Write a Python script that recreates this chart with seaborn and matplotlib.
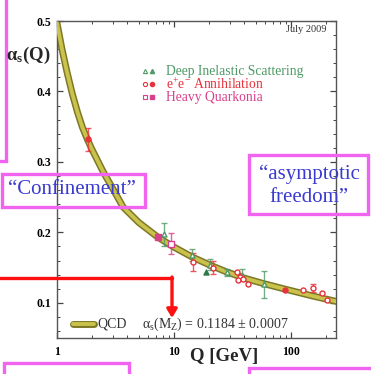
import matplotlib
matplotlib.use("Agg")
import matplotlib.pyplot as plt
from matplotlib.patches import Rectangle, FancyArrowPatch
from matplotlib.lines import Line2D
from matplotlib.ticker import FixedLocator, FixedFormatter, MultipleLocator, NullFormatter
import pandas as pd
import seaborn as sns

# running coupling curve
qcd_q = [1.0, 1.1, 1.22, 1.35, 1.5, 1.65, 1.84, 2.0, 2.5, 3.0, 3.67, 5.0, 7.3, 10, 14.3, 20, 28, 40, 59, 91, 150, 243]
qcd_alpha = [0.497, 0.461, 0.427, 0.397, 0.370, 0.349, 0.330, 0.317, 0.285, 0.262, 0.236, 0.214, 0.193, 0.179,
             0.165, 0.154, 0.144, 0.135, 0.127, 0.119, 0.110, 0.102]

# deep inelastic scattering
dis_open_q = [8.2, 14.3, 20.3, 28.3, 38, 58.8]
dis_open_a = [0.197, 0.168, 0.154, 0.143, 0.140, 0.126]
dis_open_err = [0.016, 0.009, 0.008, 0.005, 0.008, 0.019]
dis_full_q = [18.8]
dis_full_a = [0.144]

# e+e- annihilation
ee_open_q = [14.5, 21.6, 34.5, 36.6, 35.3, 38.9, 42.9, 126, 154, 184, 203]
ee_open_a = [0.158, 0.150, 0.143, 0.137, 0.133, 0.134, 0.127, 0.118, 0.121, 0.114, 0.104]
ee_open_err = [0.013, 0.009, 0, 0, 0, 0, 0, 0, 0.005, 0, 0]
ee_full_q = [1.84, 89]
ee_full_a = [0.332, 0.118]
ee_full_err = [0.016, 0]

# heavy quarkonia
hq_open_q = [9.4]
hq_open_a = [0.184]
hq_open_err = [0.015]
hq_full_q = [7.3]
hq_full_a = [0.193]

x_ticks = [1, 10, 100]
x_tick_labels = ["1", "10", "100"]
y_ticks = [0.1, 0.2, 0.3, 0.4, 0.5]

sns.set_style("ticks")
plt.rcParams["font.family"] = ["Liberation Serif", "DejaVu Serif"]
plt.rcParams["mathtext.fontset"] = "custom"
plt.rcParams["mathtext.rm"] = "Liberation Serif"
plt.rcParams["mathtext.it"] = "Liberation Serif:italic"
plt.rcParams["mathtext.bf"] = "Liberation Serif:bold"

W, H = 371, 374


def px(x, y):
    # pixel position -> figure fraction
    return x / W, 1 - y / H


fig = plt.figure(figsize=(W / 100, H / 100), dpi=100)
fig.patch.set_facecolor("white")
ax = fig.add_axes([57 / W, 1 - 338 / H, (336 - 57) / W, (338 - 21) / H])

band_dark, band_light = "#7d7826", "#c9c24c"
curve = pd.DataFrame({"Q": qcd_q, "alpha": qcd_alpha})
sns.lineplot(data=curve, x="Q", y="alpha", ax=ax, color=band_dark, linewidth=5.0, zorder=2)
sns.lineplot(data=curve, x="Q", y="alpha", ax=ax, color=band_light, linewidth=2.8, zorder=3)

green, red, pink = "#4f9a66", "#e8323c", "#d9408c"


def points(q, a, err, color, marker, filled):
    df = pd.DataFrame({"Q": q, "alpha": a, "err": err})
    bars = df[df["err"] > 0]
    ax.errorbar(bars["Q"], bars["alpha"], yerr=bars["err"], fmt="none", ecolor=color, elinewidth=1.0,
                capsize=2.2, capthick=1.0, alpha=0.8, zorder=4)
    sns.scatterplot(data=df, x="Q", y="alpha", ax=ax, marker=marker, s=13,
                    facecolor=color if filled else "white", edgecolor=color, linewidth=1.0, zorder=5)


points(dis_open_q, dis_open_a, dis_open_err, green, "^", False)
points(dis_full_q, dis_full_a, [0] * len(dis_full_q), "#2e7a46", "^", True)
points(ee_open_q, ee_open_a, ee_open_err, red, "o", False)
points(ee_full_q, ee_full_a, ee_full_err, red, "o", True)
points(hq_open_q, hq_open_a, hq_open_err, pink, "s", False)
points(hq_full_q, hq_full_a, [0] * len(hq_full_q), pink, "s", True)

ax.set_xscale("log")
ax.set_xlim(1, 243)
ax.set_ylim(0.05, 0.5)
ax.xaxis.set_major_locator(FixedLocator(x_ticks))
ax.xaxis.set_major_formatter(FixedFormatter(x_tick_labels))
ax.xaxis.set_minor_formatter(NullFormatter())
ax.yaxis.set_major_locator(FixedLocator(y_ticks))
ax.yaxis.set_minor_locator(MultipleLocator(0.02))
ax.set_xlabel("")
ax.set_ylabel("")
ax.tick_params(which="both", direction="in", top=True, right=True, colors="#444444")
ax.tick_params(which="major", length=4, width=0.9, labelsize=8.5, labelcolor="black")
ax.tick_params(which="minor", length=2, width=0.7)
ax.tick_params(axis="x", pad=6)
ax.tick_params(axis="y", pad=4)
for lab in ax.get_xticklabels() + ax.get_yticklabels():
    lab.set_fontweight("bold")
for sp in ax.spines.values():
    sp.set_visible(True)
    sp.set_color("#555555")
    sp.set_linewidth(1.0)

# axis titles
fig.text(*px(6, 55), r"$\mathbf{α_s}$(Q)", fontsize=13.5, fontweight="bold", va="center", ha="left")
fig.text(*px(224, 356), "Q [GeV]", fontsize=13.5, fontweight="bold", va="center", ha="center")
fig.text(*px(327, 30), "July 2009", fontsize=7.5, color="#333333", va="center", ha="right")

# data legend
leg_rows = [("Deep Inelastic Scattering", green, "^", 71),
            ("e$^{+}$e$^{-}$ Annihilation", red, "o", 84),
            ("Heavy Quarkonia", pink, "s", 97)]
for label, col, mk, y in leg_rows:
    fig.add_artist(Line2D([145 / W], [1 - y / H], marker=mk, markersize=3.0, markerfacecolor="white",
                          markeredgecolor=col, markeredgewidth=0.8, linestyle="none"))
    fig.add_artist(Line2D([152 / W], [1 - y / H], marker=mk, markersize=3.0, markerfacecolor=col,
                          markeredgecolor=col, linestyle="none"))
    fig.text(*px(166, y), label, fontsize=9.8, color=col, va="center", ha="left")

# QCD band legend
fig.add_artist(Line2D([73 / W, 94 / W], [1 - 324 / H] * 2, color=band_dark, linewidth=5.0))
fig.add_artist(Line2D([73 / W, 94 / W], [1 - 324 / H] * 2, color=band_light, linewidth=2.8))
fig.text(*px(97, 324), "QCD", fontsize=10, color="#333333", va="center", ha="left")
fig.text(*px(142, 324), r"$\mathrm{α_s(M_Z)}$ = 0.1184 ± 0.0007", fontsize=10, color="#333333",
         va="center", ha="left")

# slide overlays: pink boxes, blue captions, red arrow
magenta = "#f064f0"
boxes = [(-20, -20, 26, 181), (1.5, 174, 143, 33), (249, 155, 119, 59), (4, 363, 125, 30), (249, 368, 140, 30)]
for x0, y0, w, h in boxes:
    fig.add_artist(Rectangle(px(x0, y0 + h), w / W, h / H, transform=fig.transFigure,
                             fill=False, edgecolor=magenta, linewidth=2.4, clip_on=False))
blue = "#3a3ad0"
fig.text(*px(72, 190), "\u201cConfinement\u201d", fontsize=15, color=blue, va="center", ha="center")
fig.text(*px(309, 174), "\u201casymptotic", fontsize=15, color=blue, va="center", ha="center")
fig.text(*px(309, 198), "freedom\u201d", fontsize=15, color=blue, va="center", ha="center")

fig.add_artist(Line2D([0, 172 / W], [1 - 278 / H] * 2, color="#ff1010", linewidth=2.4))
fig.add_artist(FancyArrowPatch(px(172, 277), px(172, 318), transform=fig.transFigure,
                               arrowstyle="-|>,head_length=5,head_width=3", color="#ff1010",
                               linewidth=2.4, shrinkA=0, shrinkB=0))

fig.savefig("out.png", dpi=100, facecolor="white")
